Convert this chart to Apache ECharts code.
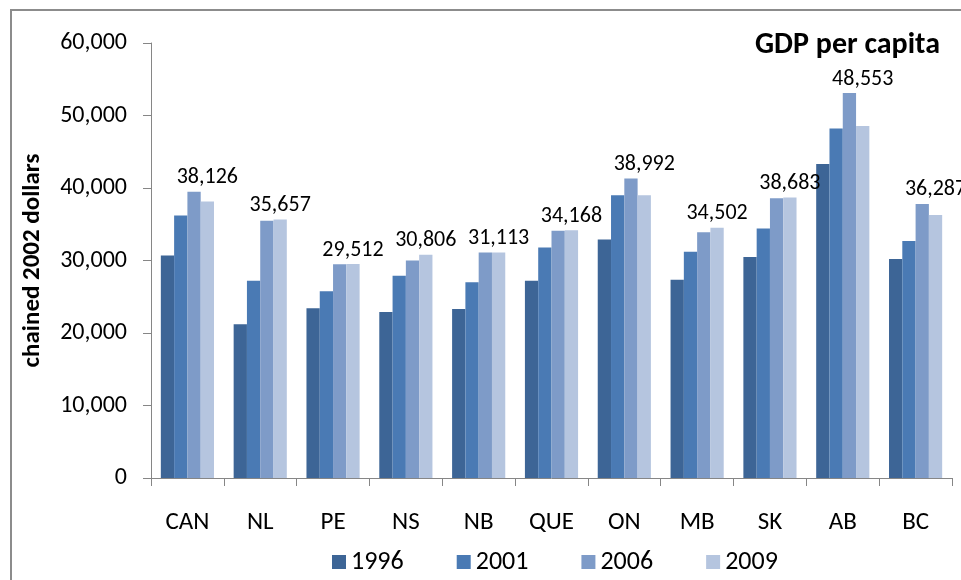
<!DOCTYPE html>
<html>
<head>
<meta charset="utf-8">
<script src="https://cdn.jsdelivr.net/npm/echarts@6/dist/echarts.min.js"></script>
<style>
html,body{margin:0;padding:0;background:#fff;}
#chart{width:961px;height:580px;}
</style>
</head>
<body>
<div id="chart"></div>
<script>
var categories = ['CAN','NL','PE','NS','NB','QUE','ON','MB','SK','AB','BC'];
var seriesNames = ['1996','2001','2006','2009'];
var v1996 = [30700, 21200, 23400, 22900, 23300, 27200, 32900, 27350, 30500, 43300, 30200];
var v2001 = [36200, 27200, 25750, 27900, 27000, 31800, 39000, 31200, 34400, 48200, 32700];
var v2006 = [39500, 35500, 29500, 30000, 31100, 34100, 41300, 33900, 38600, 53100, 37800];
var v2009 = [38126, 35657, 29512, 30806, 31113, 34168, 38992, 34502, 38683, 48553, 36287];
var yTicks = [0, 10000, 20000, 30000, 40000, 50000, 60000];
var colors = ['#3D6596', '#4A7AB4', '#7E9BC8', '#B5C5DF'];
var FONT = 'Carlito, Lato, sans-serif';

var allValues = [v1996, v2001, v2006, v2009];
function fmt(n){ return String(n).replace(/\B(?=(\d{3})+(?!\d))/g, ','); }

var chart = echarts.init(document.getElementById('chart'), null, {renderer:'canvas'});

var series = allValues.map(function(vals, i){
  var s = {
    name: seriesNames[i],
    type: 'bar',
    data: vals,
    barGap: '0%',
    barCategoryGap: '27%',
    itemStyle: {color: colors[i]},
    emphasis: {disabled: true}
  };
  if (i === 3) {
    s.label = {
      show: true,
      position: 'top',
      formatter: function(p){ return fmt(p.value); },
      fontFamily: FONT,
      fontSize: 22,
      color: '#000'
    };
    s.labelLayout = function(params){
      var idx = params.dataIndex;
      var val = vals[idx];
      var r = params.rect;
      var pxPerUnit = r.height / val;
      var maxVal = Math.max(v1996[idx], v2001[idx], v2006[idx], v2009[idx]);
      var bottomY = r.y + r.height;
      var topY = bottomY - maxVal * pxPerUnit;
      return {
        x: r.x + r.width / 2,
        y: topY - 3,
        align: 'center',
        verticalAlign: 'bottom'
      };
    };
  }
  return s;
});

var option = {
  backgroundColor: '#fff',
  animation: false,
  color: colors,
  title: {
    text: 'GDP per capita',
    right: 16,
    top: 25,
    textStyle: {fontFamily: FONT, fontSize: 30, fontWeight: 'bold', color: '#000'}
  },
  legend: {
    data: seriesNames,
    left: 327,
    top: 544,
    icon: 'rect',
    itemWidth: 14,
    itemHeight: 14,
    itemGap: 53,
    textStyle: {fontFamily: FONT, fontSize: 26, color: '#000'}
  },
  grid: {left: 151, right: 9, top: 43, bottom: 102, containLabel: false},
  xAxis: {
    type: 'category',
    data: categories,
    axisLine: {lineStyle: {color: '#868686', width: 1}},
    axisTick: {show: true, length: 8, lineStyle: {color: '#868686'}},
    axisLabel: {fontFamily: FONT, fontSize: 25, color: '#000', margin: 32}
  },
  yAxis: {
    type: 'value',
    min: yTicks[0],
    max: yTicks[yTicks.length - 1],
    interval: yTicks[1] - yTicks[0],
    name: 'chained 2002 dollars',
    nameLocation: 'middle',
    nameGap: 106,
    nameRotate: 90,
    nameTextStyle: {fontFamily: FONT, fontSize: 25, fontWeight: 'bold', color: '#000'},
    axisLine: {show: true, lineStyle: {color: '#868686', width: 1}},
    axisTick: {show: true, length: 8, lineStyle: {color: '#868686'}},
    splitLine: {show: false},
    axisLabel: {fontFamily: FONT, fontSize: 24, color: '#000', margin: 24,
      formatter: function(v){ return fmt(v); }}
  },
  graphic: [{
    type: 'rect',
    shape: {x: 11, y: 10, width: 1200, height: 1000},
    style: {fill: 'none', stroke: '#8c8c8c', lineWidth: 2},
    silent: true,
    z: -10
  }],
  series: series
};
chart.setOption(option);
</script>
</body>
</html>
